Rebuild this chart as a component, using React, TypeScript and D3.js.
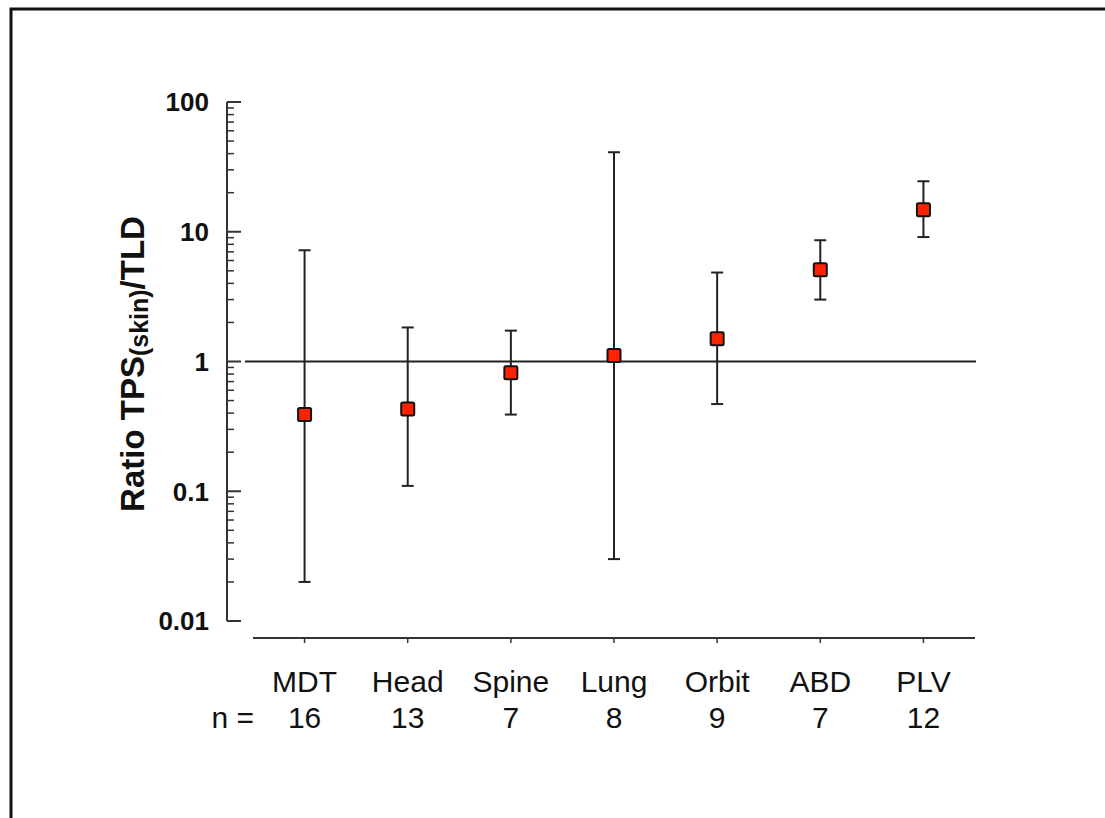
import React from "react";
import * as d3 from "d3";

const categories = ["MDT", "Head", "Spine", "Lung", "Orbit", "ABD", "PLV"];
const counts = ["16", "13", "7", "8", "9", "7", "12"];
const ratioMean = [0.39, 0.43, 0.82, 1.11, 1.5, 5.1, 14.8];
const ratioLow = [0.02, 0.11, 0.39, 0.03, 0.47, 3.0, 9.1];
const ratioHigh = [7.2, 1.83, 1.73, 41, 4.85, 8.6, 24.5];
const yTickLabels = ["0.01", "0.1", "1", "10", "100"];
const yTickValues = [0.01, 0.1, 1, 10, 100];

const FONT = "Arial, 'Liberation Sans', sans-serif";

export default function App() {
  const W = 1105;
  const H = 818;
  const y = d3.scaleLog().domain([0.01, 100]).range([621, 102]);
  const x = d3.scalePoint<string>().domain(categories).range([253, 975]).padding(0.5);

  const minorTicks: number[] = [];
  for (let e = -2; e < 2; e++) {
    for (let m = 2; m <= 9; m++) minorTicks.push(m * Math.pow(10, e));
  }

  const axisX = 227;
  const axisColor = "#333";
  const ms = 13;

  return (
    <svg
      width={W}
      height={H}
      style={{ position: "absolute", left: 0, top: 0, display: "block", background: "#fff" }}
    >
      <rect x={11} y={9} width={W + 20} height={H + 20} fill="#fff" stroke="#111" strokeWidth={3} />

      {/* Y axis */}
      <line x1={axisX} x2={axisX} y1={y(100)} y2={y(0.01)} stroke={axisColor} strokeWidth={2} />
      {yTickValues.map((v) => (
        <line key={"M" + v} x1={axisX} x2={axisX + 14} y1={y(v)} y2={y(v)} stroke={axisColor} strokeWidth={2} />
      ))}
      {minorTicks.map((v) => (
        <line key={"m" + v} x1={axisX} x2={axisX + 7} y1={y(v)} y2={y(v)} stroke={axisColor} strokeWidth={1.5} />
      ))}
      {yTickValues.map((v, i) => (
        <text
          key={"t" + v}
          x={209}
          y={y(v)}
          dy="0.36em"
          textAnchor="end"
          fontFamily={FONT}
          fontWeight="bold"
          fontSize={26}
          fill="#111"
        >
          {yTickLabels[i]}
        </text>
      ))}

      {/* Y title */}
      <text
        transform={`translate(144, 364) rotate(-90)`}
        textAnchor="middle"
        fontFamily={FONT}
        fontWeight="bold"
        fontSize={33}
        fill="#111"
      >
        Ratio TPS
        <tspan fontSize={25} dy={4}>(skin)</tspan>
        <tspan dy={-4}>/TLD</tspan>
      </text>

      {/* X axis */}
      <line x1={253} x2={975} y1={638} y2={638} stroke={axisColor} strokeWidth={2} />
      {categories.map((c) => (
        <line key={"xt" + c} x1={x(c)} x2={x(c)} y1={638} y2={643} stroke={axisColor} strokeWidth={1.5} />
      ))}
      {categories.map((c, i) => (
        <g key={"xl" + c}>
          <text x={x(c)} y={692} textAnchor="middle" fontFamily={FONT} fontSize={30} fill="#111">
            {c}
          </text>
          <text x={x(c)} y={728} textAnchor="middle" fontFamily={FONT} fontSize={30} fill="#111">
            {counts[i]}
          </text>
        </g>
      ))}
      <text x={254} y={728} textAnchor="end" fontFamily={FONT} fontSize={30} fill="#111">
        n =
      </text>

      {/* reference line at 1 */}
      <line x1={245} x2={976} y1={y(1)} y2={y(1)} stroke="#222" strokeWidth={2} />

      {/* error bars */}
      {categories.map((c, i) => {
        const cx = x(c) as number;
        return (
          <g key={"eb" + c}>
            <line x1={cx} x2={cx} y1={y(ratioLow[i])} y2={y(ratioHigh[i])} stroke="#222" strokeWidth={2} />
            <line x1={cx - 6} x2={cx + 6} y1={y(ratioLow[i])} y2={y(ratioLow[i])} stroke="#222" strokeWidth={2} />
            <line x1={cx - 6} x2={cx + 6} y1={y(ratioHigh[i])} y2={y(ratioHigh[i])} stroke="#222" strokeWidth={2} />
            <rect
              x={cx - ms / 2}
              y={y(ratioMean[i]) - ms / 2}
              width={ms}
              height={ms}
              rx={1.5}
              fill="#ff2200"
              stroke="#111"
              strokeWidth={2}
            />
          </g>
        );
      })}
    </svg>
  );
}
